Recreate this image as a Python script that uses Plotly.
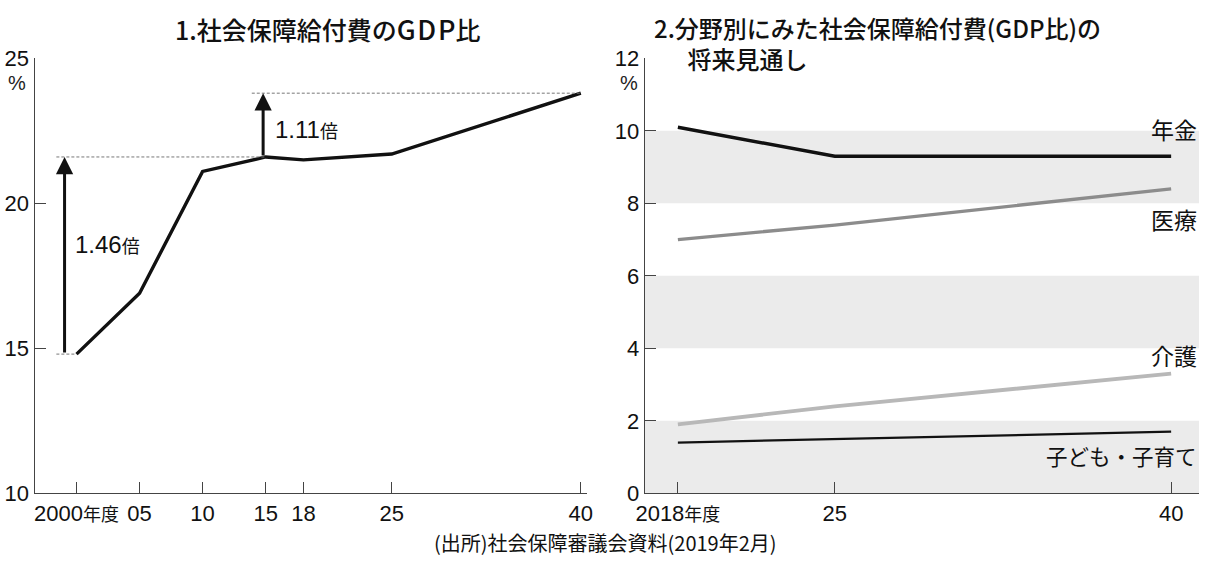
import plotly.graph_objects as go

# ---- data ----
years1 = [2000, 2005, 2010, 2015, 2018, 2025, 2040]
ratio1 = [14.8, 16.9, 21.1, 21.6, 21.5, 21.7, 23.8]
x1_tickvals = [2000, 2005, 2010, 2015, 2018, 2025, 2040]
x1_ticktext = ["2000<span style='font-family:Noto Sans CJK JP;font-size:18px'>年度</span>",
               "05", "10", "15", "18", "25", "40"]
y1_tickvals = [10, 15, 20, 25]

years2 = [2018, 2025, 2040]
pension = [10.1, 9.3, 9.3]
medical = [7.0, 7.4, 8.4]
care = [1.9, 2.4, 3.3]
child = [1.4, 1.5, 1.7]
x2_tickvals = [2018, 2025, 2040]
x2_ticktext = ["2018<span style='font-family:Noto Sans CJK JP;font-size:18px'>年度</span>", "25", "40"]
y2_tickvals = [0, 2, 4, 6, 8, 10, 12]
bands = [(8, 10), (4, 6), (0, 2)]

W, H = 1205, 565
NUM = "Liberation Sans, Arial, sans-serif"
JP = "Noto Sans CJK JP, sans-serif"
AX = "#444444"


# map target picture pixels to page pixels (the photographed page is slightly inset)
def X(p):
    return (p - 7.5) / 0.987


def Y(p):
    return (p - 13.6) / 0.956


def fx(p):
    return min(X(p), W) / W


def fy(p):
    return 1 - Y(p) / H


fig = go.Figure()

fig.add_trace(go.Scatter(x=years1, y=ratio1, mode="lines",
                         line=dict(color="#111111", width=3.4),
                         xaxis="x", yaxis="y", showlegend=False, hoverinfo="skip"))

series = [
    (pension, "#111111", 3.4),
    (medical, "#8c8c8c", 3.4),
    (care, "#b8b8b8", 3.8),
    (child, "#111111", 2.2),
]
for vals, col, w in series:
    fig.add_trace(go.Scatter(x=years2, y=vals, mode="lines",
                             line=dict(color=col, width=w),
                             xaxis="x2", yaxis="y2", showlegend=False, hoverinfo="skip"))

x2dom = [fx(643), 1.0]

shapes = []
for lo, hi in bands:
    shapes.append(dict(type="rect", xref="paper", yref="y2", x0=x2dom[0], x1=1.0, y0=lo, y1=hi,
                       fillcolor="#ebebeb", line=dict(width=0), layer="below"))

dash = dict(color="#777777", width=1, dash="3px,2px")
shapes.append(dict(type="line", xref="x", yref="y", x0=1998.4, x1=years1[3], y0=ratio1[3], y1=ratio1[3], line=dash))
shapes.append(dict(type="line", xref="x", yref="y", x0=2013.9, x1=years1[-1], y0=ratio1[-1], y1=ratio1[-1], line=dash))
shapes.append(dict(type="line", xref="x", yref="y", x0=1998.4, x1=years1[0], y0=ratio1[0], y1=ratio1[0], line=dash))

annotations = []
# arrows
annotations.append(dict(x=1999.05, y=ratio1[3], ax=1999.05, ay=ratio1[0], xref="x", yref="y",
                        axref="x", ayref="y", text="", showarrow=True, arrowhead=2,
                        arrowsize=1.15, arrowwidth=3, arrowcolor="#111111", standoff=0))
annotations.append(dict(x=2014.8, y=ratio1[-1], ax=2014.8, ay=ratio1[3], xref="x", yref="y",
                        axref="x", ayref="y", text="", showarrow=True, arrowhead=2,
                        arrowsize=1.15, arrowwidth=3, arrowcolor="#111111", standoff=0))
annotations.append(dict(x=fx(71), y=fy(246), xref="paper", yref="paper", xanchor="left", yanchor="middle",
                        text="1.46<span style='font-family:Noto Sans CJK JP;font-size:18px'>倍</span>",
                        showarrow=False, font=dict(family=NUM, size=24, color="#111111")))
annotations.append(dict(x=fx(271), y=fy(131), xref="paper", yref="paper", xanchor="left", yanchor="middle",
                        text="1.11<span style='font-family:Noto Sans CJK JP;font-size:18px'>倍</span>",
                        showarrow=False, font=dict(family=NUM, size=24, color="#111111")))

# titles
annotations.append(dict(x=fx(326), y=fy(30), xref="paper", yref="paper", xanchor="center", yanchor="middle",
                        text="1.社会保障給付費の<span style='font-size:27px'>G\u200aD\u200aP</span>比",
                        showarrow=False,
                        font=dict(family=JP, size=25, color="#111111", weight=500)))
annotations.append(dict(x=fx(650), y=fy(45), xref="paper", yref="paper", xanchor="left", yanchor="middle",
                        align="left",
                        text="2.分野別にみた社会保障給付費(GDP比)の<br>\u3000\u2009\u2009将来見通し",
                        showarrow=False, font=dict(family=JP, size=24, color="#111111", weight=500)))

# percent signs
annotations.append(dict(x=fx(15), y=fy(85), xref="paper", yref="paper", xanchor="center", yanchor="middle",
                        text="%", showarrow=False, font=dict(family=NUM, size=20, color="#222222")))
annotations.append(dict(x=fx(627), y=fy(85), xref="paper", yref="paper", xanchor="center", yanchor="middle",
                        text="%", showarrow=False, font=dict(family=NUM, size=20, color="#222222")))

# series labels
labels = [("年金", 131, 23), ("医療", 221, 23), ("介護", 357, 23), ("子ども・子育て", 457, 21.5)]
for txt, yy, fs in labels:
    annotations.append(dict(x=1.0, y=fy(yy), xref="paper", yref="paper", xanchor="right", yanchor="middle",
                            text=txt, showarrow=False, font=dict(family=JP, size=fs, color="#111111")))

# source
annotations.append(dict(x=fx(604), y=1 - 555 / H, xref="paper", yref="paper", xanchor="center", yanchor="middle",
                        text="(出所)社会保障審議会資料(2019年2月)", showarrow=False,
                        font=dict(family=JP, size=20, color="#111111")))

axis_common = dict(showgrid=False, zeroline=False, showline=True, linecolor=AX, linewidth=1.2,
                   ticks="inside", tickcolor=AX, tickwidth=1.2, ticklen=11,
                   tickfont=dict(family=NUM, size=22, color="#111111"), fixedrange=True)

ydom = [fy(495), fy(60)]

# x ranges so that tick years land on the reference positions
x1_px = (X(75), X(579))          # 2000, 2040
x1_per = (x1_px[1] - x1_px[0]) / 40
x1_range = [2000 - (x1_px[0] - X(33)) / x1_per, 2040 + (X(585) - x1_px[1]) / x1_per]
x2_px = (X(676), X(1169))        # 2018, 2040
x2_per = (x2_px[1] - x2_px[0]) / 22
x2_range = [2018 - (x2_px[0] - X(643)) / x2_per, 2040 + (W - x2_px[1]) / x2_per]

fig.update_layout(
    width=W, height=H, margin=dict(l=0, r=0, t=0, b=0),
    paper_bgcolor="white", plot_bgcolor="rgba(0,0,0,0)",
    xaxis=dict(domain=[fx(33), fx(585)], range=x1_range, tickmode="array",
               tickvals=x1_tickvals, ticktext=x1_ticktext, anchor="y", **axis_common),
    yaxis=dict(domain=ydom, range=[10, 25], tickmode="array", tickvals=y1_tickvals,
               anchor="x", **axis_common),
    xaxis2=dict(domain=x2dom, range=x2_range, tickmode="array",
                tickvals=x2_tickvals, ticktext=x2_ticktext, anchor="y2", **axis_common),
    yaxis2=dict(domain=ydom, range=[0, 12], tickmode="array", tickvals=y2_tickvals,
                anchor="x2", **axis_common),
    shapes=shapes, annotations=annotations,
)

fig.write_html("out.html")
